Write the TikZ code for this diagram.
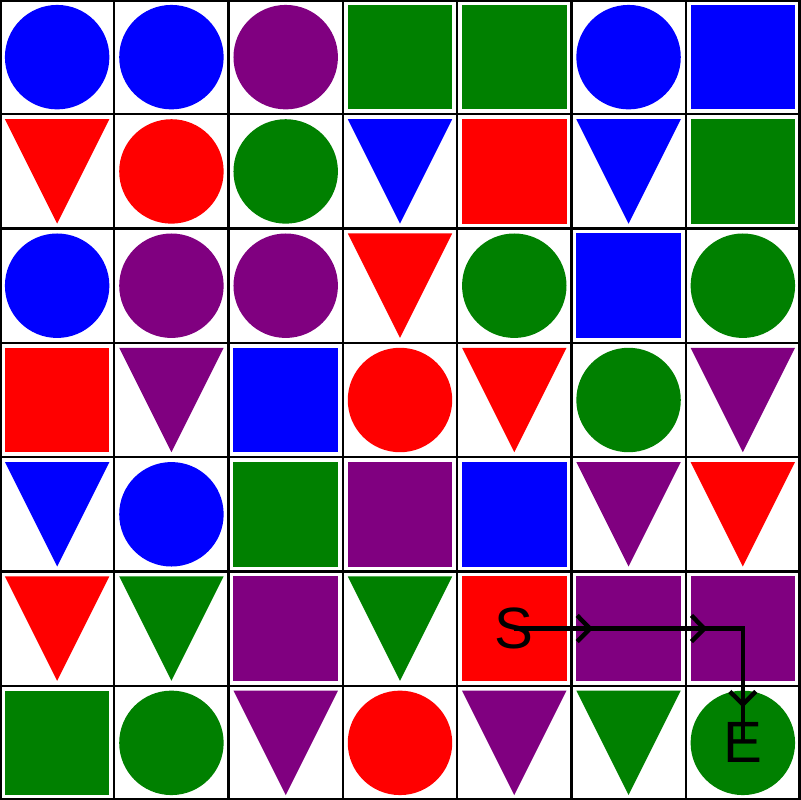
\documentclass[tikz,border=0pt]{standalone}
\usepackage{fontspec}
\setmainfont{Liberation Sans}
\usepackage{xcolor}
\usepackage{tikz}
\usetikzlibrary{arrows.meta,decorations.markings}
\definecolor{cblue}{HTML}{0000FF}
\definecolor{cred}{HTML}{FF0000}
\definecolor{cgreen}{HTML}{008000}
\definecolor{cpurple}{HTML}{800080}

\begin{document}
\begin{tikzpicture}[
  gridline/.style={draw=black, line width=0.6pt},
  lbl/.style={inner sep=0pt, font=\fontsize{14.5}{14.5}\selectfont},
  midtip/.style={postaction={decorate}, decoration={markings,
      mark=at position 0.69cm with {\arrow{Straight Barb[length=3.2pt,width=6.5pt]}},
      mark=at position 1.69cm with {\arrow{Straight Barb[length=3.2pt,width=6.5pt]}},
      mark=at position 2.69cm with {\arrow{Straight Barb[length=3.2pt,width=6.5pt]}}}},
  route/.style={draw=black, line width=1.1pt, midtip}
]
\useasboundingbox (0,0) rectangle (7,7);

% circles (column/row, row 0 at the top)
\foreach \x/\r/\c in {0/0/cblue, 1/0/cblue, 2/0/cpurple, 5/0/cblue,
                      1/1/cred, 2/1/cgreen,
                      0/2/cblue, 1/2/cpurple, 2/2/cpurple, 4/2/cgreen, 6/2/cgreen,
                      3/3/cred, 5/3/cgreen,
                      1/4/cblue,
                      1/6/cgreen, 3/6/cred, 6/6/cgreen}
  \fill[\c] ({\x+0.5},{6.5-\r}) circle (0.457);

% squares
\foreach \x/\r/\c in {3/0/cgreen, 4/0/cgreen, 6/0/cblue,
                      4/1/cred, 6/1/cgreen,
                      5/2/cblue,
                      0/3/cred, 2/3/cblue,
                      2/4/cgreen, 3/4/cpurple, 4/4/cblue,
                      2/5/cpurple, 4/5/cred, 5/5/cpurple, 6/5/cpurple,
                      0/6/cgreen}
  \fill[\c] ({\x+0.043},{6.043-\r}) rectangle ({\x+0.957},{6.957-\r});

% triangles
\foreach \x/\r/\c in {0/1/cred, 3/1/cblue, 5/1/cblue,
                      3/2/cred,
                      1/3/cpurple, 4/3/cred, 6/3/cpurple,
                      0/4/cblue, 5/4/cpurple, 6/4/cred,
                      0/5/cred, 1/5/cgreen, 3/5/cgreen,
                      2/6/cpurple, 4/6/cpurple, 5/6/cgreen}
  \fill[\c] ({\x+0.043},{6.957-\r}) -- ({\x+0.957},{6.957-\r}) -- ({\x+0.5},{6.043-\r}) -- cycle;

% grid
\draw[gridline] (0,0) grid (7,7);
\draw[line width=1pt] (0,0) rectangle (7,7);

% route
\node[lbl] (S) at (4.5,1.5) {S};
\coordinate (m1) at (5.5,1.5);
\coordinate (m2) at (6.5,1.5);
\node[lbl] (E) at (6.5,0.5) {E};
\draw[route] (S.center) -- (m1) -- (m2) -- (E.center);

\end{tikzpicture}
\end{document}
